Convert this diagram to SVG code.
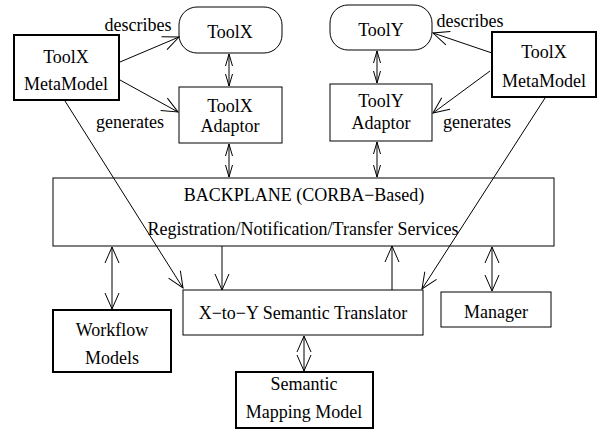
<svg xmlns="http://www.w3.org/2000/svg" width="602" height="430" viewBox="0 0 602 430">
<style>
text{font-family:"Liberation Serif","Times New Roman",serif;font-size:18px;fill:#000;text-anchor:middle}
.thin{fill:#fff;stroke:#000;stroke-width:1}
.thick{fill:#fff;stroke:#000;stroke-width:2}
.c{fill:none;stroke:#000;stroke-width:1}
.a{marker-end:url(#ah)}
.d{marker-start:url(#ah);marker-end:url(#ah)}
.s{marker-start:url(#sh);marker-end:url(#sh)}
</style>
<defs>
<marker id="ah" markerUnits="userSpaceOnUse" viewBox="-17 -8 19 16" refX="0" refY="0" markerWidth="19" markerHeight="16" orient="auto-start-reverse" overflow="visible">
<polyline points="-16,-7 0,0 -16,7" fill="none" stroke="#000" stroke-width="1"/>
</marker>
<marker id="sh" markerUnits="userSpaceOnUse" viewBox="-14 -5 16 10" refX="0" refY="0" markerWidth="16" markerHeight="10" orient="auto-start-reverse" overflow="visible">
<polyline points="-12,-3.5 0,0 -12,3.5" fill="none" stroke="#000" stroke-width="1"/>
</marker>
</defs>
<g id="toolx-metamodel">
<rect class="thick" x="14" y="35" width="105" height="65"/>
<text x="66" y="63">ToolX</text>
<text x="66" y="90">MetaModel</text>
</g>
<g id="toolx">
<rect class="thin" x="179" y="7" width="103" height="46" rx="18" ry="18"/>
<text x="230" y="38">ToolX</text>
</g>
<g id="toolx-adaptor">
<rect class="thin" x="179" y="87" width="103" height="56"/>
<text x="230" y="112">ToolX</text>
<text x="230" y="132">Adaptor</text>
</g>
<g id="tooly">
<rect class="thin" x="330" y="5" width="102" height="45" rx="18" ry="18"/>
<text x="381" y="36">ToolY</text>
</g>
<g id="tooly-adaptor">
<rect class="thin" x="330" y="84" width="102" height="57"/>
<text x="381" y="107">ToolY</text>
<text x="381" y="129">Adaptor</text>
</g>
<g id="tooly-metamodel">
<rect class="thick" x="492" y="32" width="104" height="65"/>
<text x="544" y="58">ToolX</text>
<text x="544" y="87">MetaModel</text>
</g>
<g id="backplane">
<rect class="thin" x="53" y="178" width="501" height="68"/>
<text x="304" y="201">BACKPLANE (CORBA−Based)</text>
<text x="303" y="235">Registration/Notification/Transfer Services</text>
</g>
<g id="workflow">
<rect class="thick" x="53" y="310" width="118" height="62"/>
<text x="112" y="336">Workflow</text>
<text x="112" y="364">Models</text>
</g>
<g id="translator">
<rect class="thin" x="183" y="290" width="240" height="45"/>
<text x="303" y="319">X−to−Y Semantic Translator</text>
</g>
<g id="manager">
<rect class="thin" x="441" y="292" width="110" height="35"/>
<text x="496" y="318">Manager</text>
</g>
<g id="semantic">
<rect class="thick" x="236" y="372" width="137" height="56"/>
<text x="304" y="390">Semantic</text>
<text x="304" y="418">Mapping Model</text>
</g>
<g id="connectors">
<line class="c a" x1="120" y1="62" x2="179" y2="37"/>
<line class="c a" x1="120" y1="80" x2="178" y2="112"/>
<line class="c a" x1="492" y1="53" x2="433" y2="33"/>
<line class="c a" x1="490" y1="71" x2="433" y2="113"/>
<line class="c a" x1="65" y1="101" x2="183" y2="288"/>
<line class="c a" x1="545" y1="98" x2="422" y2="289"/>
<line class="c s" x1="229" y1="54" x2="229" y2="86"/>
<line class="c s" x1="229" y1="144" x2="229" y2="177"/>
<line class="c s" x1="377" y1="51" x2="377" y2="83"/>
<line class="c s" x1="377" y1="142" x2="377" y2="177"/>
<line class="c d" x1="112" y1="247" x2="112" y2="309"/>
<line class="c a" x1="222" y1="246" x2="222" y2="290"/>
<line class="c a" x1="392" y1="290" x2="392" y2="246"/>
<line class="c d" x1="492" y1="247" x2="492" y2="291"/>
<line class="c d" x1="304" y1="336" x2="304" y2="371"/>
<text x="138" y="31">describes</text>
<text x="130" y="128">generates</text>
<text x="470" y="27">describes</text>
<text x="477" y="128">generates</text>
</g>
</svg>
